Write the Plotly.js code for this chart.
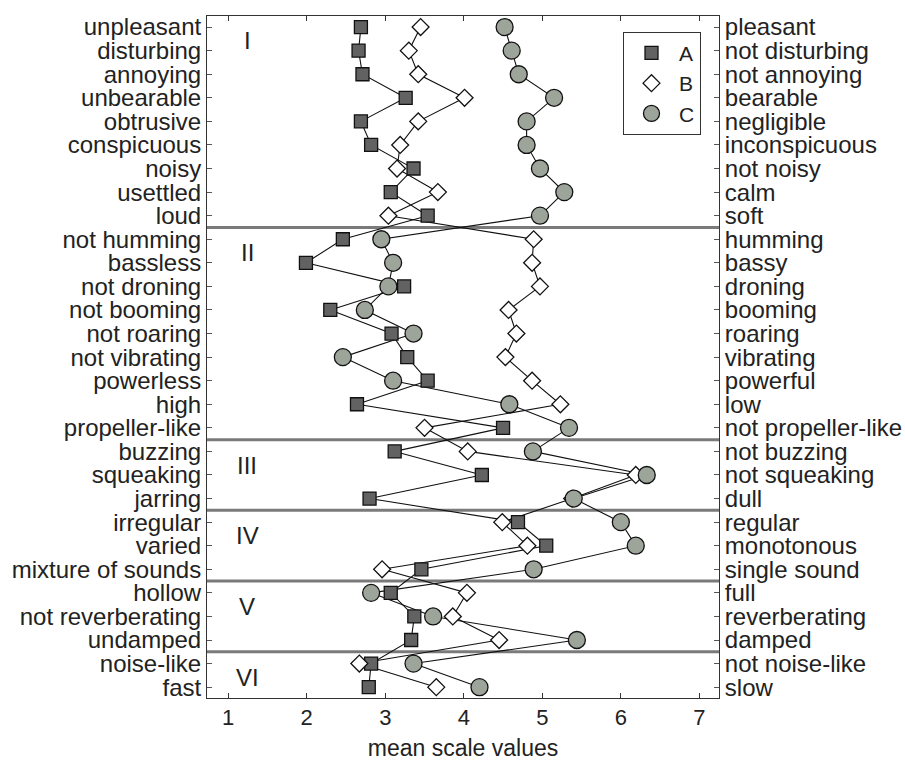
<!DOCTYPE html>
<html>
<head>
<meta charset="utf-8">
<script src="https://cdn.plot.ly/plotly-3.0.1.min.js"></script>
<style>html,body{margin:0;padding:0;background:#fff;}#chart{width:905px;height:767px;}</style>
</head>
<body>
<div id="chart"></div>
<script>
const leftLabels = ["unpleasant","disturbing","annoying","unbearable","obtrusive","conspicuous","noisy","usettled","loud",
  "not humming","bassless","not droning","not booming","not roaring","not vibrating","powerless","high","propeller-like",
  "buzzing","squeaking","jarring",
  "irregular","varied","mixture of sounds",
  "hollow","not reverberating","undamped",
  "noise-like","fast"];
const rightLabels = ["pleasant","not disturbing","not annoying","bearable","negligible","inconspicuous","not noisy","calm","soft",
  "humming","bassy","droning","booming","roaring","vibrating","powerful","low","not propeller-like",
  "not buzzing","not squeaking","dull",
  "regular","monotonous","single sound",
  "full","reverberating","damped",
  "not noise-like","slow"];
const seriesA = [2.69,2.66,2.71,3.26,2.69,2.82,3.36,3.07,3.54,
  2.46,1.99,3.24,2.30,3.08,3.28,3.54,2.64,4.50,
  3.12,4.23,2.80,
  4.69,5.05,3.46,
  3.07,3.37,3.33,
  2.82,2.79];
const seriesB = [3.45,3.30,3.42,4.01,3.42,3.19,3.15,3.67,3.04,
  4.89,4.87,4.97,4.57,4.67,4.53,4.87,5.23,3.50,
  4.05,6.19,5.38,
  4.49,4.81,2.96,
  4.04,3.86,4.45,
  2.67,3.65];
const seriesC = [4.52,4.61,4.70,5.15,4.80,4.80,4.97,5.28,4.97,
  2.95,3.10,3.04,2.74,3.36,2.46,3.10,4.58,5.34,
  4.88,6.33,5.40,
  6.00,6.19,4.89,
  2.82,3.61,5.44,
  3.36,4.20];
const seriesNames = ["A","B","C"];
const groupLabels = ["I","II","III","IV","V","VI"];
const groupStarts = [0,9,18,21,24,27];
const xTicks = [1,2,3,4,5,6,7];

const rows = leftLabels.map((_, i) => i);
const FONT = "Liberation Sans, Arial, sans-serif";
const styles = [
  {symbol:"square", size:13, color:"#626262"},
  {symbol:"diamond", size:13, color:"#ffffff"},
  {symbol:"circle", size:17, color:"#9da59b"}
];
const allSeries = [seriesA, seriesB, seriesC];
const traces = [];
// invisible carrier so the right-hand axis (yaxis2) is drawn
traces.push({x:seriesC, y:rows, yaxis:"y2", mode:"markers", marker:{opacity:0}, showlegend:false, hoverinfo:"skip"});
allSeries.forEach((s) => {
  traces.push({x:s, y:rows, mode:"lines", line:{color:"#111", width:1.1}, showlegend:false, hoverinfo:"skip"});
});
allSeries.forEach((s, k) => {
  traces.push({x:s, y:rows, mode:"markers", name:seriesNames[k],
    marker:{symbol:styles[k].symbol, size:styles[k].size, color:styles[k].color, line:{color:"#111", width:1.3}}});
});

const shapes = groupStarts.slice(1).map(g => ({
  type:"line", xref:"paper", x0:0, x1:1, yref:"y", y0:g-0.5, y1:g-0.5,
  line:{color:"#7a7a7a", width:3}, layer:"below"
}));
const annotations = groupLabels.map((t, i) => ({
  text:t, x:1.24, y:groupStarts[i]+0.58, xref:"x", yref:"y", showarrow:false,
  font:{family:FONT, size:24, color:"#222"}, xanchor:"center", yanchor:"middle"
}));

const yr = [28.46, -0.47];
const layout = {
  width:905, height:767,
  margin:{l:207, r:186, t:16, b:69, pad:0},
  paper_bgcolor:"#fff", plot_bgcolor:"#fff",
  font:{family:FONT, size:24, color:"#222"},
  showlegend:true,
  legend:{x:0.8125, y:0.977, xanchor:"left", yanchor:"top", bgcolor:"#fff", itemwidth:45,
    bordercolor:"#333", borderwidth:1, font:{family:FONT, size:21, color:"#222"}, tracegroupgap:0},
  xaxis:{range:[0.73, 7.25], tickvals:xTicks, ticktext:xTicks.map(String), ticks:"inside", ticklen:5,
    tickcolor:"#333", showline:true, linecolor:"#333", linewidth:1, mirror:"ticks", showgrid:false, zeroline:false,
    tickfont:{family:FONT, size:22, color:"#222"},
    title:{text:"mean scale values", font:{family:FONT, size:23, color:"#222"}, standoff:10}},
  yaxis:{range:yr, tickvals:rows, ticktext:leftLabels, ticks:"inside", ticklen:5, tickcolor:"#555",
    showline:true, linecolor:"#333", linewidth:1, showgrid:false, zeroline:false,
    tickfont:{family:FONT, size:24, color:"#222"}},
  yaxis2:{range:yr, tickvals:rows, ticktext:rightLabels, overlaying:"y", side:"right", anchor:"x",
    ticks:"inside", ticklen:5, tickcolor:"#555", showline:true, linecolor:"#333", linewidth:1,
    showgrid:false, zeroline:false, tickfont:{family:FONT, size:24, color:"#222"}},
  shapes:shapes,
  annotations:annotations
};
Plotly.newPlot("chart", traces, layout, {displayModeBar:false, staticPlot:true});
</script>
</body>
</html>
